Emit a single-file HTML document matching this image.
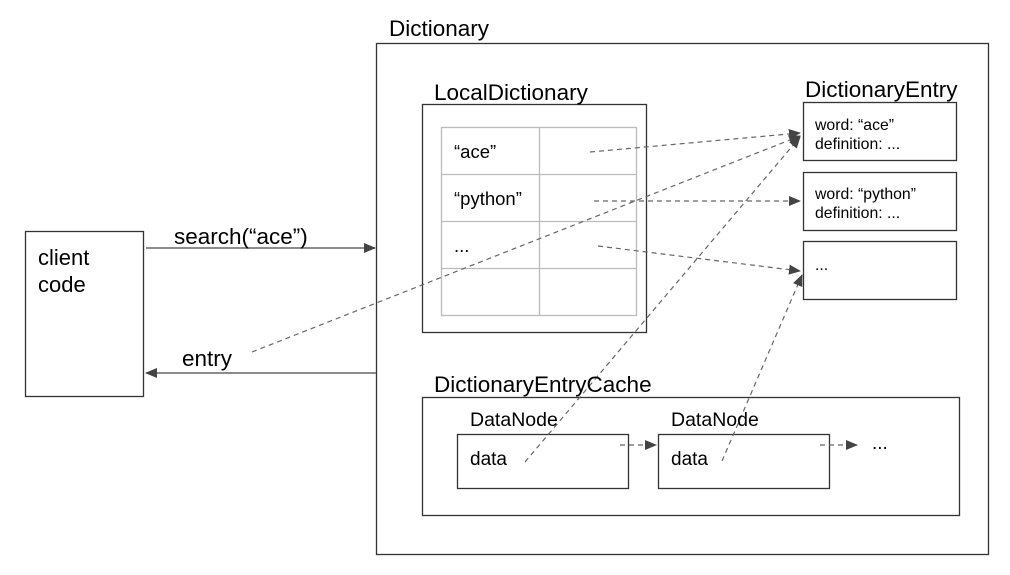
<!DOCTYPE html>
<html><head><meta charset="utf-8"><style>
html,body{margin:0;padding:0;background:#fff;}
svg{display:block;}
text{font-family:"Liberation Sans",Arial,sans-serif;fill:#000;}
</style></head><body>
<svg width="1010" height="575" viewBox="0 0 1010 575" xmlns="http://www.w3.org/2000/svg">
<defs>
<marker id="ah" markerWidth="12" markerHeight="10" refX="11" refY="5" orient="auto" markerUnits="userSpaceOnUse">
<path d="M0,0 L12,5 L0,10 Z" fill="#444"/></marker>
</defs>
<g fill="none" stroke="#333" stroke-width="1.3">
<rect x="376.5" y="43.5" width="612" height="511"/>
<rect x="25.5" y="231.5" width="118" height="165"/>
<rect x="422.5" y="104.5" width="224" height="228"/>
<rect x="803.5" y="102.5" width="153" height="58"/>
<rect x="803.5" y="172.5" width="153" height="58"/>
<rect x="803.5" y="241.5" width="153" height="58"/>
<rect x="422.5" y="397.5" width="537" height="118"/>
<rect x="457.5" y="434.5" width="171" height="54"/>
<rect x="658.5" y="434.5" width="171" height="54"/>
</g>
<g fill="none" stroke="#bbb" stroke-width="1.3">
<rect x="441.5" y="127.5" width="195" height="188"/>
<line x1="539.5" y1="127" x2="539.5" y2="315"/>
<line x1="441" y1="174.5" x2="636" y2="174.5"/>
<line x1="441" y1="221.5" x2="636" y2="221.5"/>
<line x1="441" y1="268.5" x2="636" y2="268.5"/>
</g>
<g stroke="#666" stroke-width="1.5" fill="none">
<line x1="146" y1="248" x2="375" y2="248" marker-end="url(#ah)"/>
<line x1="376" y1="373" x2="146" y2="373" marker-end="url(#ah)"/>
</g>
<g stroke="#666" stroke-width="1.2" fill="none" stroke-dasharray="5,4">
<line x1="590" y1="152" x2="800" y2="133" marker-end="url(#ah)"/>
<line x1="594" y1="201" x2="800" y2="201" marker-end="url(#ah)"/>
<line x1="598" y1="246" x2="800" y2="271" marker-end="url(#ah)"/>
<line x1="252" y1="352" x2="800" y2="136" marker-end="url(#ah)"/>
<line x1="525" y1="462" x2="800" y2="137" marker-end="url(#ah)"/>
<line x1="722" y1="461" x2="802" y2="275" marker-end="url(#ah)"/>
<line x1="620" y1="445" x2="656" y2="445" marker-end="url(#ah)"/>
<line x1="820" y1="445" x2="857" y2="445" marker-end="url(#ah)"/>
</g>
<text x="389" y="36" font-size="22.5">Dictionary</text>
<text x="38" y="265" font-size="22">client</text>
<text x="38" y="292" font-size="22">code</text>
<text x="174" y="244" font-size="22.5">search(“ace”)</text>
<text x="182" y="366" font-size="22.5">entry</text>
<text x="434" y="100" font-size="22.5">LocalDictionary</text>
<text x="805" y="97" font-size="22.5">DictionaryEntry</text>
<text x="434" y="392" font-size="22.5">DictionaryEntryCache</text>
<text x="454" y="158" font-size="18.5">“ace”</text>
<text x="454" y="205" font-size="18.5">“python”</text>
<text x="454" y="252" font-size="18.5">...</text>
<text x="815" y="130" font-size="15.8">word: “ace”</text>
<text x="815" y="149" font-size="15.8">definition: ...</text>
<text x="815" y="199" font-size="15.8">word: “python”</text>
<text x="815" y="218" font-size="15.8">definition: ...</text>
<text x="815" y="270" font-size="15.8">...</text>
<text x="470" y="426" font-size="19.5">DataNode</text>
<text x="671" y="426" font-size="19.5">DataNode</text>
<text x="470" y="465" font-size="19">data</text>
<text x="671" y="465" font-size="19">data</text>
<text x="872" y="449" font-size="19">...</text>
</svg>
</body></html>
